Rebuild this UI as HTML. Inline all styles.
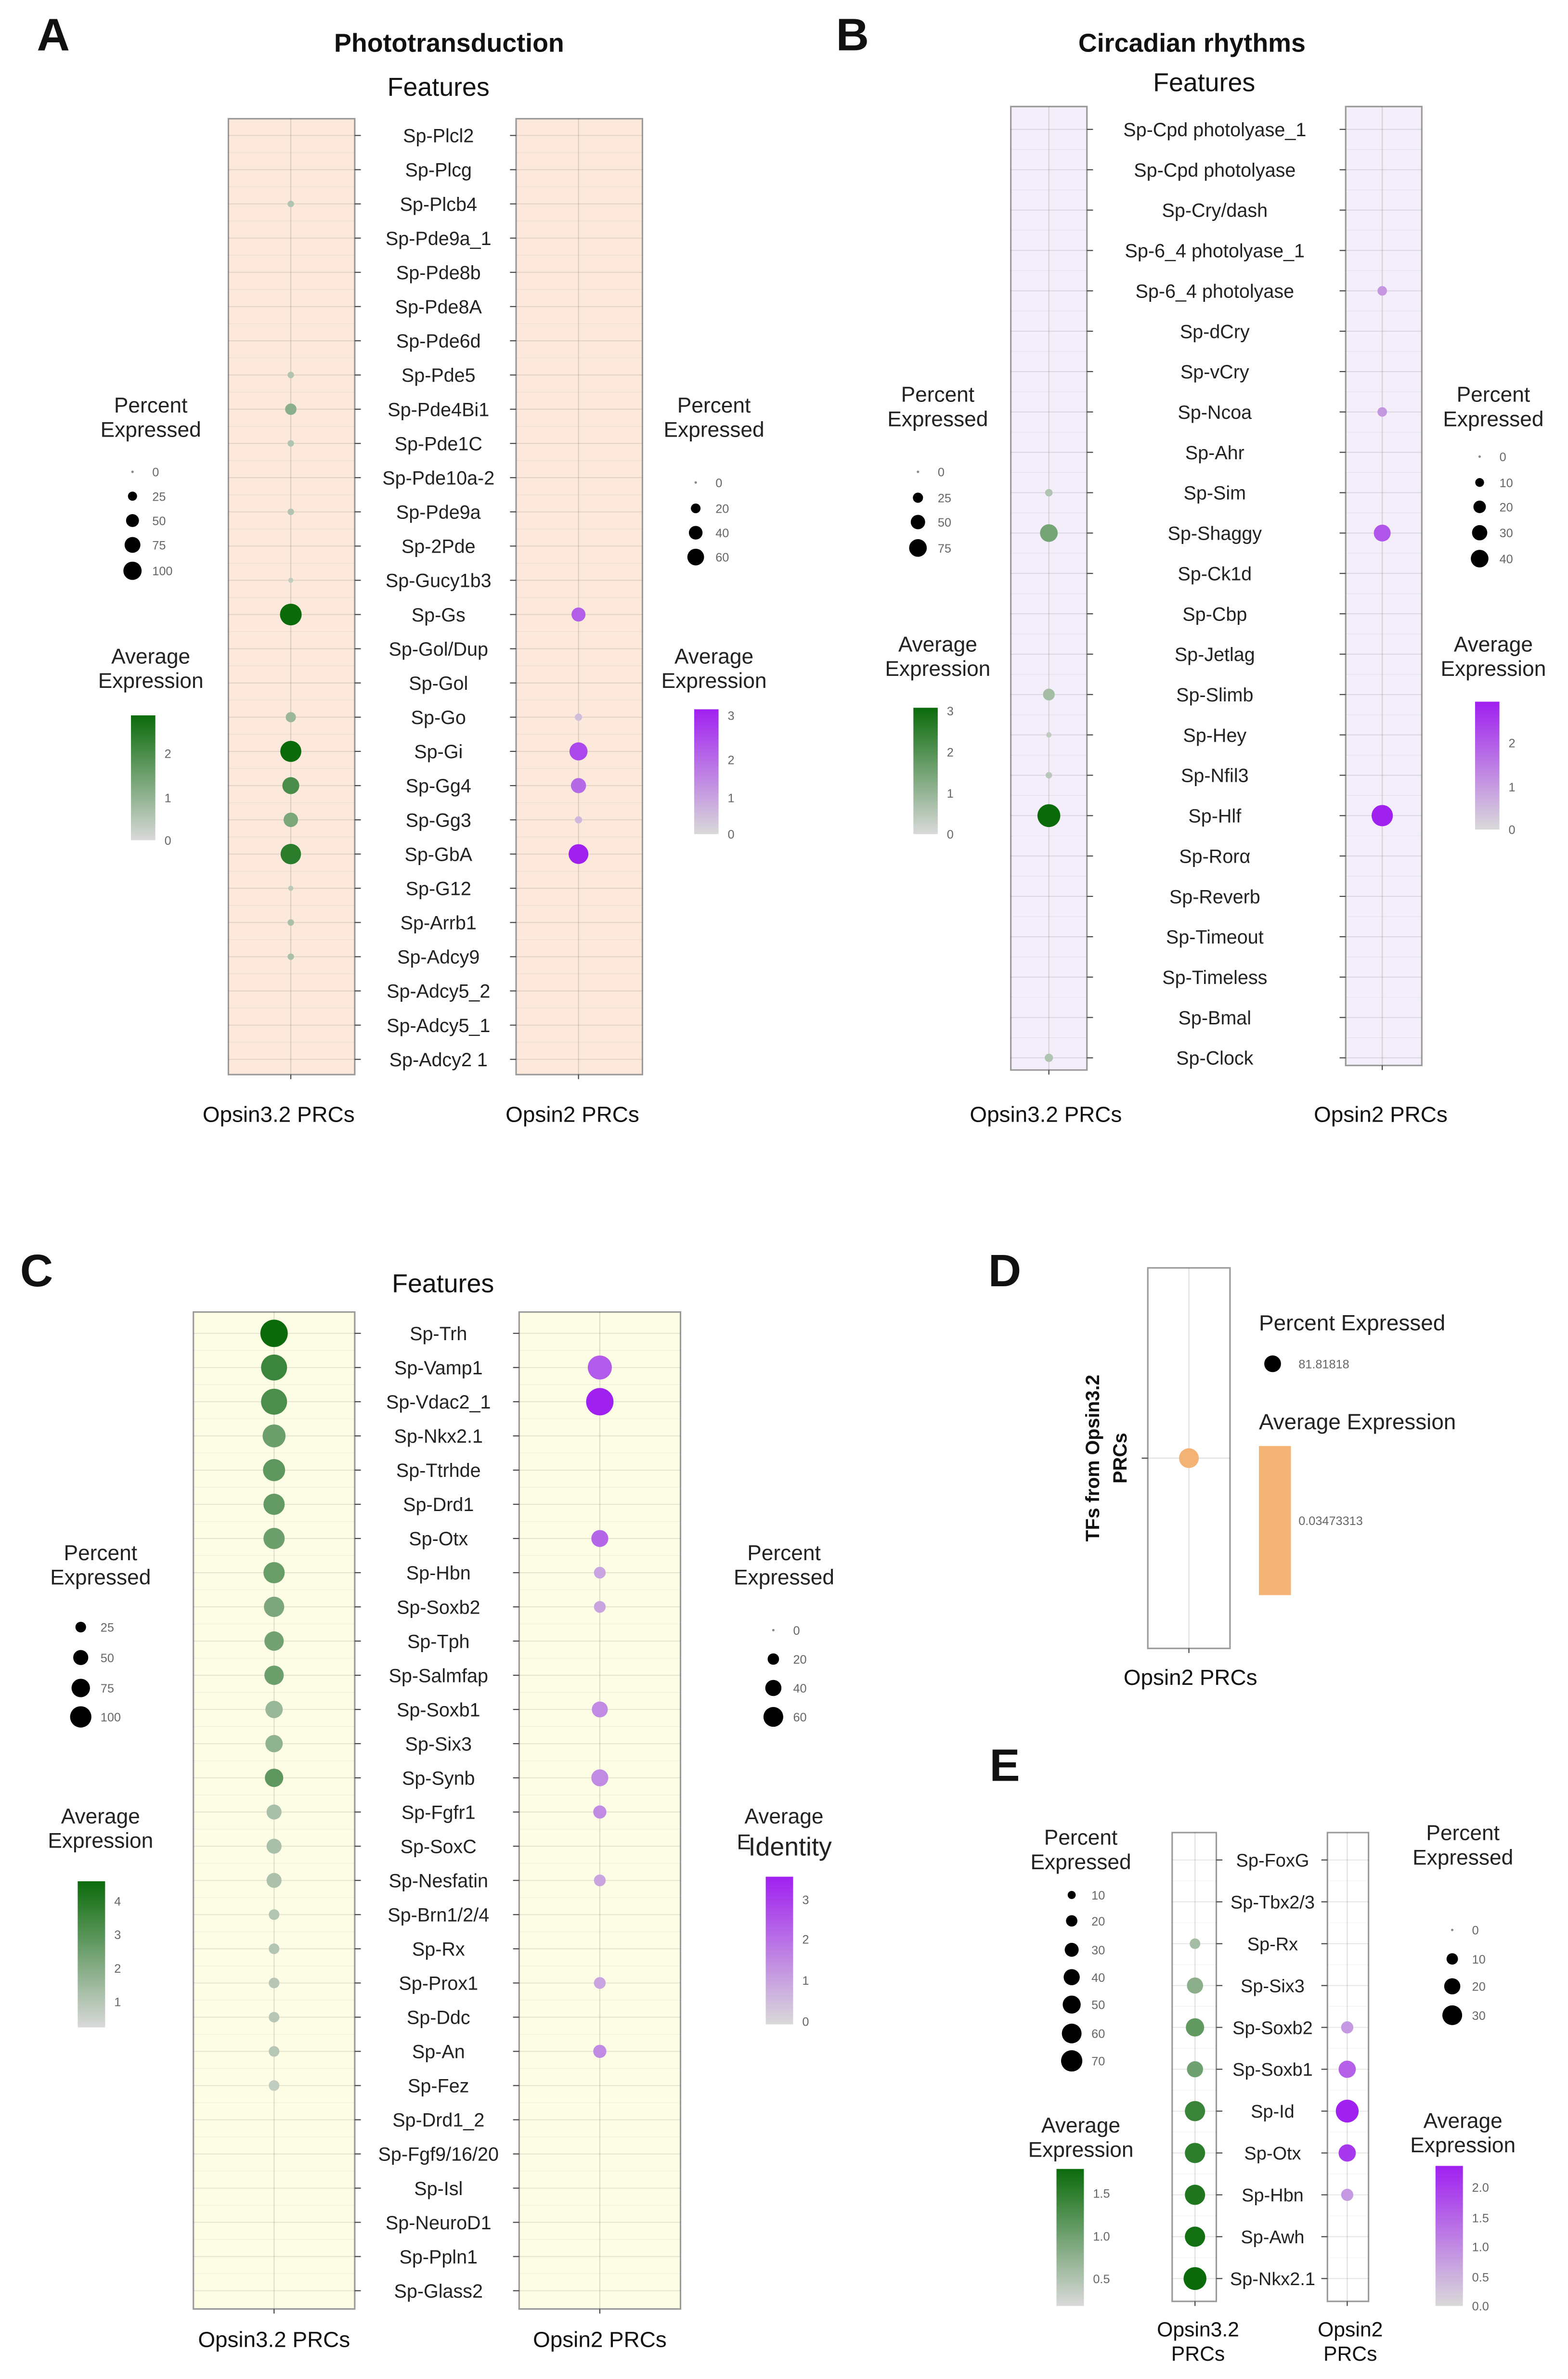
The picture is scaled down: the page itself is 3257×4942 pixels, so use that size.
<!DOCTYPE html>
<html><head><meta charset="utf-8"><style>
html,body{margin:0;padding:0;background:#fff}
svg{display:block}
text{font-family:"Liberation Sans",sans-serif}
</style></head><body>
<svg id="fig" xmlns="http://www.w3.org/2000/svg" width="3257" height="4942" viewBox="0 0 1030 1563">
<defs>
<linearGradient id="gGreen" x1="0" y1="1" x2="0" y2="0"><stop offset="0" stop-color="#d9d9d9"/><stop offset="1" stop-color="#0b6b0b"/></linearGradient>
<linearGradient id="gPurple" x1="0" y1="1" x2="0" y2="0"><stop offset="0" stop-color="#d9d9d9"/><stop offset="1" stop-color="#a020f0"/></linearGradient>
</defs>
<g id="root"></g>
</svg>
<script>
// ---------- Panel A data ----------
const genesA = ["Sp-Plcl2","Sp-Plcg","Sp-Plcb4","Sp-Pde9a_1","Sp-Pde8b","Sp-Pde8A","Sp-Pde6d","Sp-Pde5","Sp-Pde4Bi1","Sp-Pde1C","Sp-Pde10a-2","Sp-Pde9a","Sp-2Pde","Sp-Gucy1b3","Sp-Gs","Sp-Gol/Dup","Sp-Gol","Sp-Go","Sp-Gi","Sp-Gg4","Sp-Gg3","Sp-GbA","Sp-G12","Sp-Arrb1","Sp-Adcy9","Sp-Adcy5_2","Sp-Adcy5_1","Sp-Adcy2 1"];
const pctA1 = [0,0,8,0,0,0,0,8,25,8,0,8,0,5,90,0,0,20,85,55,40,80,5,8,8,0,0,0];
const avgA1 = [0,0,0.5,0,0,0,0,0.5,1.0,0.5,0,0.5,0,0.3,2.6,0,0,0.8,2.6,1.8,1.2,2.2,0.4,0.6,0.6,0,0,0];
const pctA2 = [0,0,0,0,0,0,0,0,0,0,0,0,0,0,30,0,0,8,50,35,8,60,0,0,0,0,0,0];
const avgA2 = [0,0,0,0,0,0,0,0,0,0,0,0,0,0,2.2,0,0,0.5,2.6,2.0,0.6,3.3,0,0,0,0,0,0];
const sizeTicksA1 = ["0","25","50","75","100"];
const sizeTicksA2 = ["0","20","40","60"];
const colTicksA1 = ["2","1","0"];
const colTicksA2 = ["3","2","1","0"];
// ---------- Panel B data ----------
const genesB = ["Sp-Cpd photolyase_1","Sp-Cpd photolyase","Sp-Cry/dash","Sp-6_4 photolyase_1","Sp-6_4 photolyase","Sp-dCry","Sp-vCry","Sp-Ncoa","Sp-Ahr","Sp-Sim","Sp-Shaggy","Sp-Ck1d","Sp-Cbp","Sp-Jetlag","Sp-Slimb","Sp-Hey","Sp-Nfil3","Sp-Hlf","Sp-Rorα","Sp-Reverb","Sp-Timeout","Sp-Timeless","Sp-Bmal","Sp-Clock"];
const pctB1 = [0,0,0,0,0,0,0,0,0,8,45,0,0,0,20,4,6,75,0,0,0,0,0,10];
const avgB1 = [0,0,0,0,0,0,0,0,0,0.6,1.5,0,0,0,0.8,0.4,0.5,3.1,0,0,0,0,0,0.6];
const pctB2 = [0,0,0,0,8,0,0,8,0,0,25,0,0,0,0,0,0,40,0,0,0,0,0,0];
const avgB2 = [0,0,0,0,1.0,0,0,1.0,0,0,2.0,0,0,0,0,0,0,2.8,0,0,0,0,0,0];
const sizeTicksB1 = ["0","25","50","75"];
const sizeTicksB2 = ["0","10","20","30","40"];
const colTicksB1 = ["3","2","1","0"];
const colTicksB2 = ["2","1","0"];
// ---------- Panel C data ----------
const genesC = ["Sp-Trh","Sp-Vamp1","Sp-Vdac2_1","Sp-Nkx2.1","Sp-Ttrhde","Sp-Drd1","Sp-Otx","Sp-Hbn","Sp-Soxb2","Sp-Tph","Sp-Salmfap","Sp-Soxb1","Sp-Six3","Sp-Synb","Sp-Fgfr1","Sp-SoxC","Sp-Nesfatin","Sp-Brn1/2/4","Sp-Rx","Sp-Prox1","Sp-Ddc","Sp-An","Sp-Fez","Sp-Drd1_2","Sp-Fgf9/16/20","Sp-Isl","Sp-NeuroD1","Sp-Ppln1","Sp-Glass2"];
const pctC1 = [100,90,90,70,65,60,60,60,55,50,50,40,40,45,30,30,30,15,15,15,15,15,15,0,0,0,0,0,0];
const avgC1 = [4.5,3.5,3.2,2.5,2.8,2.7,2.5,2.6,2.2,2.4,2.5,1.6,1.8,2.8,1.3,1.3,1.2,1.1,1.1,1.0,1.0,1.0,0.8,0,0,0,0,0,0];
const pctC2 = [0,50,65,0,0,0,25,12,12,0,0,22,0,25,15,0,12,0,0,12,0,15,0,0,0,0,0,0,0];
const avgC2 = [0,2.4,3.5,0,0,0,2.2,1.0,1.0,0,0,1.5,0,1.5,1.5,0,1.0,0,0,1.0,0,1.5,0,0,0,0,0,0,0];
const sizeTicksC1 = ["25","50","75","100"];
const sizeTicksC2 = ["0","20","40","60"];
const colTicksC1 = ["4","3","2","1"];
const colTicksC2 = ["3","2","1","0"];
// ---------- Panel D data ----------
const pctD = [81.81818];
const avgD = [0.03473313];
// ---------- Panel E data ----------
const genesE = ["Sp-FoxG","Sp-Tbx2/3","Sp-Rx","Sp-Six3","Sp-Soxb2","Sp-Soxb1","Sp-Id","Sp-Otx","Sp-Hbn","Sp-Awh","Sp-Nkx2.1"];
const pctE1 = [0,0,15,35,45,35,55,55,55,55,70];
const avgE1 = [0,0,0.7,0.9,1.2,1.1,1.5,1.6,1.7,1.8,1.85];
const pctE2 = [0,0,0,0,10,20,35,20,10,0,0];
const avgE2 = [0,0,0,0,0.8,1.5,2.3,2.0,0.8,0,0];
const sizeTicksE1 = ["10","20","30","40","50","60","70"];
const sizeTicksE2 = ["0","10","20","30"];
const colTicksE1 = ["1.5","1.0","0.5"];
const colTicksE2 = ["2.0","1.5","1.0","0.5","0.0"];

const NS = "http://www.w3.org/2000/svg";
const root = document.getElementById("root");
function mk(tag, attrs, parent, txt) {
  const e = document.createElementNS(NS, tag);
  for (const k in attrs) e.setAttribute(k, attrs[k]);
  if (txt !== undefined) e.textContent = txt;
  (parent || root).appendChild(e);
  return e;
}
function lerp(a, b, t) { return Math.round(a + (b - a) * t); }
function colorScale(v, vmin, vmax, hi) {
  let t = (v - vmin) / (vmax - vmin); t = Math.max(0, Math.min(1, t));
  const lo = [217, 217, 217];
  return "rgb(" + lerp(lo[0], hi[0], t) + "," + lerp(lo[1], hi[1], t) + "," + lerp(lo[2], hi[2], t) + ")";
}
const GREEN = [11, 107, 11], PURPLE = [160, 32, 240];
function rowY(i, y0, step) { return y0 + i * step; }
function radius(p, pmax, rmax) { return p <= 0 ? 0 : rmax * Math.sqrt(p / pmax); }

function plotBox(g, x0, x1, y0, y1, bg, rows, firstY, step, dotX, tickSide, name) {
  const r = mk("rect", {x: x0, y: y0, width: x1 - x0, height: y1 - y0, fill: bg, stroke: "#9a9a9a", "stroke-width": 1}, g);
  
  
  for (let i = 0; i < rows; i++) {
    const y = rowY(i, firstY, step);
    mk("line", {x1: x0, x2: x1, y1: y, y2: y, stroke: "rgba(0,0,0,0.10)", "stroke-width": 0.6}, g);
    if (i < rows - 1) mk("line", {x1: x0, x2: x1, y1: y + step / 2, y2: y + step / 2, stroke: "rgba(0,0,0,0.05)", "stroke-width": 0.4}, g);
    const tx = tickSide === "right" ? x1 : x0;
    mk("line", {x1: tx, x2: tickSide === "right" ? tx + 4 : tx - 4, y1: y, y2: y, stroke: "#444", "stroke-width": 0.7}, g);
  }
  mk("line", {x1: dotX, x2: dotX, y1: y0, y2: y1, stroke: "rgba(0,0,0,0.12)", "stroke-width": 0.7}, g);
  mk("line", {x1: dotX, x2: dotX, y1: y1, y2: y1 + 3, stroke: "#444", "stroke-width": 0.7}, g);
}
function dots(g, pct, avg, dotX, firstY, step, pmax, rmax, vmin, vmax, hi, name) {
  for (let i = 0; i < pct.length; i++) {
    const r = radius(pct[i], pmax, rmax);
    if (r <= 0) continue;
    const c = mk("circle", {cx: dotX, cy: rowY(i, firstY, step), r: r, fill: colorScale(avg[i], vmin, vmax, hi)}, g);
    
    
  }
}
function geneLabels(g, genes, cx, firstY, step, fs) {
  genes.forEach((s, i) => {
    const t = mk("text", {x: cx, y: rowY(i, firstY, step) + fs * 0.36, "font-size": fs, "text-anchor": "middle", fill: "#222"}, g, s);
    
    
  });
}
function legend(g, cx, titleY, sizeTicks, sizeYs, dotX, pmaxLeg, rmax, avgTitleY, bar, colTicks, colYs, grad, name) {
  const t1 = mk("text", {x: cx, y: titleY, "font-size": 14, "text-anchor": "middle", fill: "#222"}, g, "Percent");
  
  
  mk("text", {x: cx, y: titleY + 16, "font-size": 14, "text-anchor": "middle", fill: "#222"}, g, "Expressed");
  sizeTicks.forEach((s, i) => {
    const v = parseFloat(s);
    const r = v <= 0 ? 0.8 : rmax * Math.sqrt(v / pmaxLeg);
    const c = mk("circle", {cx: dotX, cy: sizeYs[i], r: r, fill: v <= 0 ? "#888" : "#000"}, g);
    
    
    mk("text", {x: dotX + 13, y: sizeYs[i] + 3, "font-size": 8, fill: "#666"}, g, s);
  });
  if (avgTitleY !== null) {
    const t2 = mk("text", {x: cx, y: avgTitleY, "font-size": 14, "text-anchor": "middle", fill: "#222"}, g, "Average");
    
    
    mk("text", {x: cx, y: avgTitleY + 16, "font-size": 14, "text-anchor": "middle", fill: "#222"}, g, "Expression");
  }
  const b = mk("rect", {x: bar[0], y: bar[1], width: bar[2], height: bar[3], fill: "url(#" + grad + ")"}, g);
  
  
  colTicks.forEach((s, i) => {
    mk("text", {x: bar[0] + bar[2] + 6, y: colYs[i] + 3, "font-size": 8, fill: "#666"}, g, s);
  });
}
function txt(x, y, s, fs, opts, name) {
  const a = Object.assign({x: x, y: y, "font-size": fs, "text-anchor": "middle", fill: "#111"}, opts || {});
  const t = mk("text", a, root, s);
  
  
  return t;
}

// ===== Panel A =====
(function () {
  const g = mk("g", {});
  
  
  const y0 = 89, st = (696 - 89) / 27;
  plotBox(g, 150, 233, 78, 706, "#fce9dc", 28, y0, st, 191, "right", "a-opsin32");
  plotBox(g, 339, 422, 78, 706, "#fce9dc", 28, y0, st, 380, "left", "a-opsin2");
  dots(g, pctA1, avgA1, 191, y0, st, 100, 7.5, 0, 2.6, GREEN, "a-opsin32");
  dots(g, pctA2, avgA2, 380, y0, st, 60, 6.5, 0, 3.3, PURPLE, "a-opsin2");
  geneLabels(g, genesA, 288, y0, st, 12.5);
  legend(g, 99, 271, sizeTicksA1, [310, 326, 342, 358, 375], 87, 100, 6, 436, [86, 470, 16, 82], colTicksA1, [495, 524, 552], "gGreen", "a-left");
  legend(g, 469, 271, sizeTicksA2, [317, 334, 350, 366], 457, 60, 5.5, 436, [456, 466, 16, 82], colTicksA2, [470, 499, 524, 548], "gPurple", "a-right");
})();
txt(35, 33, "A", 30, {"font-weight": "bold"}, "panel-label-a");
txt(295, 34, "Phototransduction", 17, {"font-weight": "bold"}, "panel-a-title");
txt(288, 63, "Features", 17, {}, "panel-a-features-title");
txt(183, 737, "Opsin3.2 PRCs", 14.5, {}, "panel-a-x-label-opsin32");
txt(376, 737, "Opsin2 PRCs", 14.5, {}, "panel-a-x-label-opsin2");

// ===== Panel B =====
(function () {
  const g = mk("g", {});
  
  
  const y0 = 85, st = (695 - 85) / 23;
  plotBox(g, 664, 714, 70, 703, "#f3eefa", 24, y0, st, 689, "right", "b-opsin32");
  plotBox(g, 884, 934, 70, 700, "#f3eefa", 24, y0, st, 908, "left", "b-opsin2");
  dots(g, pctB1, avgB1, 689, y0, st, 75, 7.5, 0, 3.1, GREEN, "b-opsin32");
  dots(g, pctB2, avgB2, 908, y0, st, 40, 7, 0, 2.8, PURPLE, "b-opsin2");
  geneLabels(g, genesB, 798, y0, st, 12.5);
  legend(g, 616, 264, sizeTicksB1, [310, 327, 343, 360], 603, 75, 5.8, 428, [600, 465, 16, 83], colTicksB1, [467, 494, 521, 548], "gGreen", "b-left");
  legend(g, 981, 264, sizeTicksB2, [300, 317, 333, 350, 367], 972, 40, 5.8, 428, [969, 461, 16, 84], colTicksB2, [488, 517, 545], "gPurple", "b-right");
})();
txt(560, 33, "B", 30, {"font-weight": "bold"}, "panel-label-b");
txt(783, 34, "Circadian rhythms", 17, {"font-weight": "bold"}, "panel-b-title");
txt(791, 60, "Features", 17, {}, "panel-b-features-title");
txt(687, 737, "Opsin3.2 PRCs", 14.5, {}, "panel-b-x-label-opsin32");
txt(907, 737, "Opsin2 PRCs", 14.5, {}, "panel-b-x-label-opsin2");

// ===== Panel C =====
(function () {
  const g = mk("g", {});
  
  
  const y0 = 876, st = (1505 - 876) / 28;
  plotBox(g, 127, 233, 862, 1517, "#fdfde6", 29, y0, st, 180, "right", "c-opsin32");
  plotBox(g, 341, 447, 862, 1517, "#fdfde6", 29, y0, st, 394, "left", "c-opsin2");
  dots(g, pctC1, avgC1, 180, y0, st, 100, 9, 0.3, 4.5, GREEN, "c-opsin32");
  dots(g, pctC2, avgC2, 394, y0, st, 65, 9, 0, 3.5, PURPLE, "c-opsin2");
  geneLabels(g, genesC, 288, y0, st, 12.5);
  legend(g, 66, 1025, sizeTicksC1, [1069, 1089, 1109, 1128], 53, 100, 7, 1198, [51, 1236, 18, 96], colTicksC1, [1249, 1271, 1293, 1315], "gGreen", "c-left");
  legend(g, 515, 1025, sizeTicksC2, [1071, 1090, 1109, 1128], 508, 60, 6.5, null, [503, 1233, 18, 97], colTicksC2, [1248, 1274, 1301, 1328], "gPurple", "c-right");
})();
txt(24, 845, "C", 30, {"font-weight": "bold"}, "panel-label-c");
txt(291, 849, "Features", 17, {}, "panel-c-features-title");
txt(515, 1198, "Average", 14, {fill: "#222"}, "c-right-color-legend-title");
txt(484, 1215, "E", 14, {fill: "#222", "text-anchor": "start"}, "c-right-color-legend-title-fragment");
txt(519, 1219, "Identity", 17, {fill: "#222"}, "c-right-color-legend-title-overlay");
txt(180, 1542, "Opsin3.2 PRCs", 14.5, {}, "panel-c-x-label-opsin32");
txt(394, 1542, "Opsin2 PRCs", 14.5, {}, "panel-c-x-label-opsin2");

// ===== Panel D =====
(function () {
  const g = mk("g", {});
  
  
  const bx = mk("rect", {x: 754, y: 833, width: 54, height: 250, fill: "#fff", stroke: "#9a9a9a", "stroke-width": 1}, g);
  
  
  mk("line", {x1: 781, x2: 781, y1: 833, y2: 1083, stroke: "rgba(0,0,0,0.12)", "stroke-width": 0.7}, g);
  mk("line", {x1: 754, x2: 808, y1: 958, y2: 958, stroke: "rgba(0,0,0,0.12)", "stroke-width": 0.7}, g);
  mk("line", {x1: 750, x2: 754, y1: 958, y2: 958, stroke: "#444", "stroke-width": 0.7}, g);
  mk("line", {x1: 781, x2: 781, y1: 1083, y2: 1086, stroke: "#444", "stroke-width": 0.7}, g);
  const r = radius(pctD[0], 81.81818, 6.5);
  const c = mk("circle", {cx: 781, cy: 958, r: r, fill: "#f2b374"}, g);
  
  
  const yl = mk("text", {x: 0, y: 0, "font-size": 12.5, "font-weight": "bold", "text-anchor": "middle", fill: "#111", transform: "translate(722,958) rotate(-90)"}, g, "TFs from Opsin3.2");
  
  
  mk("text", {x: 0, y: 0, "font-size": 12.5, "font-weight": "bold", "text-anchor": "middle", fill: "#111", transform: "translate(740,958) rotate(-90)"}, g, "PRCs");
  mk("text", {x: 827, y: 874, "font-size": 14.5, fill: "#222"}, g, "Percent  Expressed");
  const kd = mk("circle", {cx: 836, cy: 896, r: 5.5, fill: "#000"}, g);
  
  
  mk("text", {x: 853, y: 899, "font-size": 8, fill: "#666"}, g, pctD[0].toFixed(5));
  mk("text", {x: 827, y: 939, "font-size": 14.5, fill: "#222"}, g, "Average  Expression");
  const bar = mk("rect", {x: 827, y: 950, width: 21, height: 98, fill: "#f2b374"}, g);
  
  
  mk("text", {x: 853, y: 1002, "font-size": 8, fill: "#666"}, g, String(avgD[0]));
})();
txt(660, 845, "D", 30, {"font-weight": "bold"}, "panel-label-d");
txt(782, 1107, "Opsin2 PRCs", 14.5, {}, "panel-d-x-label");

// ===== Panel E =====
(function () {
  const g = mk("g", {});
  
  
  const y0 = 1222, st = (1497 - 1222) / 10;
  plotBox(g, 770, 799, 1204, 1512, "#ffffff", 11, y0, st, 785, "right", "e-opsin32");
  plotBox(g, 872, 899, 1204, 1512, "#ffffff", 11, y0, st, 885, "left", "e-opsin2");
  dots(g, pctE1, avgE1, 785, y0, st, 70, 7.5, 0.3, 1.85, GREEN, "e-opsin32");
  dots(g, pctE2, avgE2, 885, y0, st, 35, 7.5, 0, 2.3, PURPLE, "e-opsin2");
  geneLabels(g, genesE, 836, y0, st, 12);
  legend(g, 710, 1212, sizeTicksE1, [1245, 1262, 1281, 1299, 1317, 1336, 1354], 704, 70, 7, 1401, [694, 1425, 18, 90], colTicksE1, [1441, 1469, 1497], "gGreen", "e-left");
  legend(g, 961, 1209, sizeTicksE2, [1268, 1287, 1305, 1324], 954, 30, 6.5, 1398, [943, 1423, 18, 92], colTicksE2, [1437, 1457, 1476, 1496, 1515], "gPurple", "e-right");
})();
txt(660, 1170, "E", 30, {"font-weight": "bold"}, "panel-label-e");
txt(787, 1535, "Opsin3.2", 13.5, {}, "panel-e-x-label-opsin32");
txt(787, 1551, "PRCs", 13.5, {}, "panel-e-x-label-opsin32-line2");
txt(887, 1535, "Opsin2", 13.5, {}, "panel-e-x-label-opsin2");
txt(887, 1551, "PRCs", 13.5, {}, "panel-e-x-label-opsin2-line2");
</script>
</body></html>
